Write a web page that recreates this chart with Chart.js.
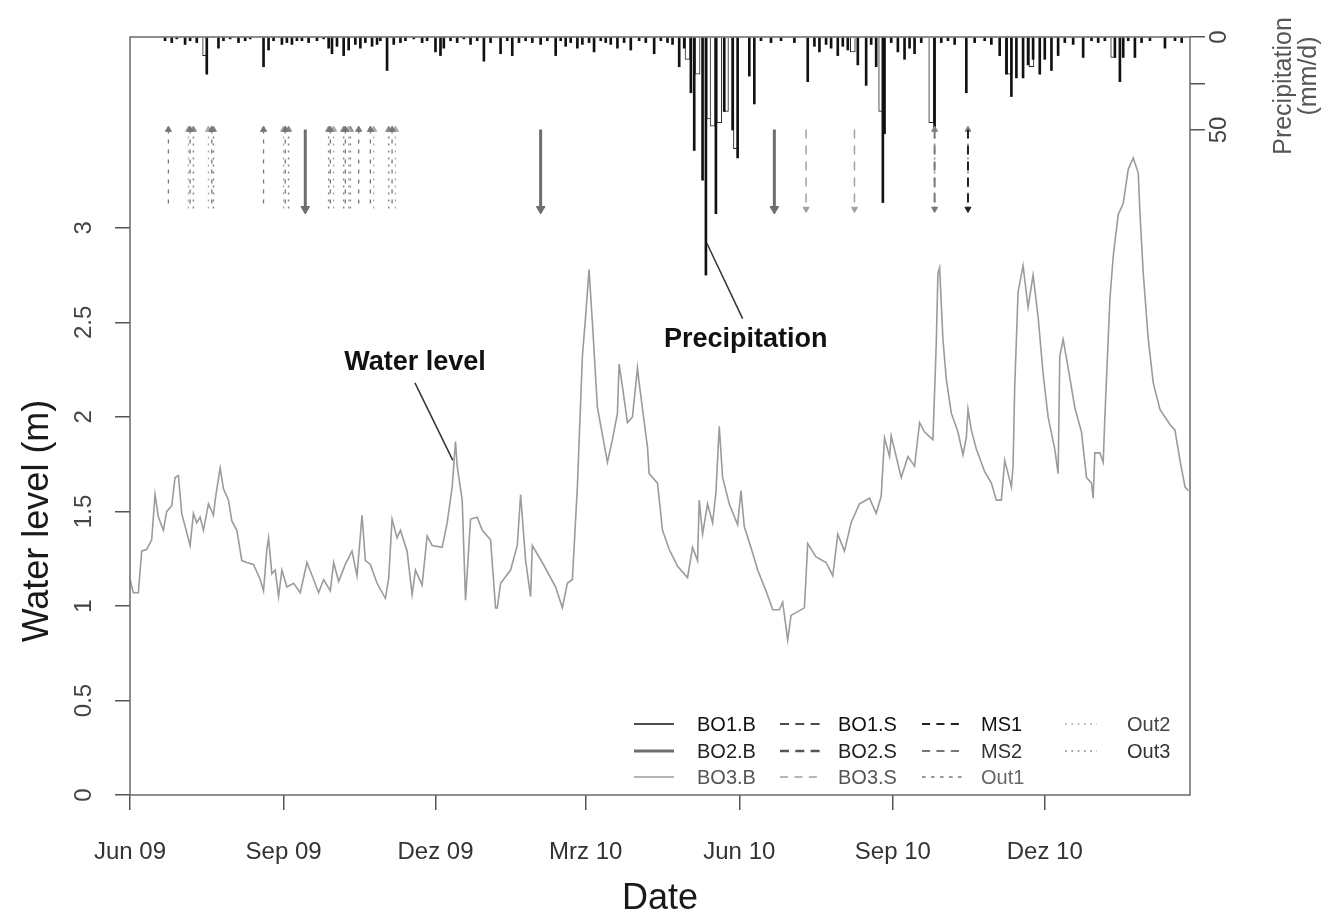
<!DOCTYPE html>
<html lang="de">
<head>
  <meta charset="UTF-8">
  <title>Water level and precipitation</title>
  <script src="https://cdn.jsdelivr.net/npm/chart.js"></script>
  <style>
    html, body { margin: 0; padding: 0; background: #ffffff; }
    #wrap { width: 1328px; height: 917px; }
  </style>
</head>
<body>
  <div id="wrap"><canvas id="chart"></canvas></div>

  <script>
    // x values are days since 1 Jun 2009
    const tickDays = [0, 92, 183, 273, 365, 457, 548];
    const tickLabels = ['Jun 09', 'Sep 09', 'Dez 09', 'Mrz 10', 'Jun 10', 'Sep 10', 'Dez 10'];
    const levelTicks = [0, 0.5, 1, 1.5, 2, 2.5, 3];
    const precipTicks = [0, 25, 50];
    const precipTickLabels = ['0', '', '50'];

    // water level (m)
    const levelDays = [0,2,5,6,7,10,13,15,17,20,22,25,27,29,31,36,38,40,42,44,47,50,51,54,56,59,61,64,67,70,
      74,78,80,82,83,85,87,89,91,94,98,102,106,110,113,116,120,122,125,129,133,136,139,141,144,148,153,155,157,160,
      162,166,169,171,175,178,181,187,190,193,195,196,199,201,204,208,211,216,219,220,222,228,232,234,237,240,241,247,255,259,
      262,265,268,271,273,275,277,280,286,289,292,293,295,298,301,304,305,310,311,316,319,323,
      328,334,337,340,341,343,346,349,351,353,355,359,364,366,368,373,376,381,385,389,391,394,396,404,406,411,417,421,424,428,
      432,437,443,447,450,452,455,456,462,466,470,473,476,481,483,484,
      485,487,489,492,496,499,501,502,504,507,512,516,519,522,524,526,528,529,530,532,535,538,541,544,547,550,554,556,557,559,
      562,566,570,573,576,577,578,581,583,584,587,589,592,595,598,601,604,605,607,610,613,617,623,626,629,632,634];
    const levelValues = [1.14,1.07,1.07,1.18,1.29,1.30,1.35,1.59,1.47,1.40,1.50,1.53,1.68,1.69,1.49,1.32,1.49,1.44,1.47,1.40,
      1.54,1.48,1.56,1.73,1.62,1.56,1.45,1.40,1.24,1.23,1.22,1.14,1.08,1.30,1.36,1.17,1.19,1.05,1.19,1.10,
      1.12,1.07,1.23,1.14,1.07,1.14,1.08,1.23,1.13,1.22,1.29,1.16,1.48,1.24,1.22,1.12,1.04,1.15,1.46,1.36,
      1.40,1.29,1.06,1.19,1.11,1.37,1.32,1.31,1.44,1.63,1.87,1.74,1.56,1.03,1.46,1.47,1.40,1.35,0.99,0.99,
      1.12,1.19,1.32,1.59,1.24,1.05,1.32,1.23,1.10,0.99,1.12,1.14,1.63,2.32,2.54,2.78,2.50,2.05,1.76,1.88,
      2.02,2.28,2.16,1.97,2.00,2.26,2.18,1.84,1.70,1.65,1.40,1.30,
      1.21,1.15,1.31,1.24,1.56,1.38,1.54,1.44,1.60,1.95,1.68,1.54,1.43,1.61,1.42,1.28,1.19,1.08,0.98,0.98,
      1.02,0.82,0.95,0.99,1.33,1.26,1.23,1.16,1.38,1.29,1.44,1.54,1.57,1.49,1.58,1.89,1.79,1.90,1.68,1.79,
      1.74,1.97,1.92,1.88,2.39,2.76,
      2.79,2.41,2.20,2.02,1.92,1.80,1.89,2.04,1.93,1.83,1.71,1.65,1.56,1.56,1.77,1.70,1.63,1.74,2.16,2.66,
      2.80,2.58,2.75,2.53,2.23,2.00,1.83,1.70,2.32,2.41,2.26,2.05,1.92,1.68,1.65,1.57,1.81,1.81,1.76,2.00,
      2.62,2.85,3.07,3.13,3.31,3.37,3.29,3.08,2.76,2.41,2.18,2.04,1.96,1.93,1.77,1.63,1.61];

    // precipitation (mm/d)
    const precipDays = [21,25,28,33,36,40,46,53,56,60,65,69,72,80,83,86,91,94,97,100,103,107,112,116,119,121,124,128,131,135,
      138,141,145,148,150,154,158,162,165,170,175,178,183,186,188,192,196,200,204,208,212,216,222,226,229,233,237,241,246,250,
      255,258,261,264,268,271,275,278,282,285,288,292,296,300,305,309,314,318,322,325,329,332,336,338,343,345,351,356,361,364,
      371,374,378,384,390,398,406,410,413,417,420,424,427,430,436,441,444,447,451,452,456,460,464,467,470,474,482,486,490,494,
      501,506,512,516,521,525,528,531,535,538,541,545,548,552,556,560,565,571,576,580,584,590,593,595,598,602,606,611,620,626,630];
    const precipValues = [2,3,1,4,2,3,20,6,2,1,3,2,1,16,7,2,4,3,4,2,2,3,2,1,6,9,5,10,7,4,
      6,3,5,4,2,18,4,3,2,1,3,2,8,10,6,2,3,1,4,2,13,3,9,2,10,3,2,3,4,2,
      10,2,5,3,6,4,3,8,2,3,4,6,3,7,2,3,9,2,3,4,16,6,30,61,77,128,95,40,50,65,
      21,36,2,3,2,3,24,5,8,4,6,10,5,7,15,26,4,16,89,52,3,8,12,6,9,3,50,3,2,4,
      30,3,2,4,10,20,32,22,22,15,12,20,12,18,10,3,4,11,2,3,2,11,24,11,2,11,3,2,6,2,3];
    const precip2Days = [45,334,340,347,349,353,357,363,433,450,480,527,540,589];
    const precip2Values = [10,12,20,44,48,46,40,60,8,40,46,20,16,11];

    // sampling dates per site
    const sampleBO1B = [];
    const sampleBO2B = [105, 246, 386];
    const sampleBO3B = [];
    const sampleBO1S = [];
    const sampleBO2S = [];
    const sampleBO3S = [405, 434];
    const sampleMS1 = [502];
    const sampleMS2 = [482];
    const sampleOut1 = [23, 36, 49, 80, 93, 120, 129, 137, 144, 157];
    const sampleOut2 = [35, 47, 92, 122, 131, 146, 159];
    const sampleOut3 = [38, 50, 95, 119, 128, 132, 155, 482, 502];

    const sites = [
      { label: 'BO1.B', dates: sampleBO1B, color: '#111111', width: 1.5, dash: [], head: 'down', text: '#111' },
      { label: 'BO2.B', dates: sampleBO2B, color: '#6e6e6e', width: 3, dash: [], head: 'down', text: '#222' },
      { label: 'BO3.B', dates: sampleBO3B, color: '#9a9a9a', width: 1.5, dash: [], head: 'down', text: '#555' },
      { label: 'BO1.S', dates: sampleBO1S, color: '#111111', width: 1.5, dash: [10, 7], head: 'down', text: '#111' },
      { label: 'BO2.S', dates: sampleBO2S, color: '#555555', width: 2.5, dash: [10, 7], head: 'down', text: '#222' },
      { label: 'BO3.S', dates: sampleBO3S, color: '#a0a0a0', width: 1.5, dash: [9, 7], head: 'down', text: '#555' },
      { label: 'MS1', dates: sampleMS1, color: '#222222', width: 2, dash: [9, 7], head: 'down', text: '#111' },
      { label: 'MS2', dates: sampleMS2, color: '#777777', width: 2, dash: [9, 7], head: 'down', text: '#333' },
      { label: 'Out1', dates: sampleOut1, color: '#777777', width: 1.3, dash: [4, 6], head: 'up', text: '#666' },
      { label: 'Out2', dates: sampleOut2, color: '#aaaaaa', width: 1.3, dash: [2, 5], head: 'up', text: '#444' },
      { label: 'Out3', dates: sampleOut3, color: '#888888', width: 1.5, dash: [2, 5], head: 'up', text: '#333' }
    ];

    const arrowTop = 3.52;
    const arrowBottom = 3.10;

    const notes = [
      { text: 'Water level', day: 170.7, level: 2.29, from: [170.7, 2.18], to: [193.4, 1.77] },
      { text: 'Precipitation', day: 368.9, level: 2.41, from: [367, 2.52], to: [345.5, 2.92] }
    ];

    const FONT = '"Liberation Sans", Arial, Helvetica, sans-serif';

    function arrowPoints(dates) {
      const pts = [];
      dates.forEach(d => {
        pts.push({ x: d, y: arrowTop }, { x: d, y: arrowBottom }, { x: d, y: null });
      });
      return pts;
    }

    const datasets = [];

    datasets.push({
      type: 'line',
      label: 'Water level',
      data: levelDays.map((d, i) => ({ x: d, y: levelValues[i] })),
      yAxisID: 'y',
      borderColor: '#9b9b9b',
      borderWidth: 1.6,
      pointRadius: 0,
      tension: 0,
      order: 5
    });

    datasets.push({
      type: 'bar',
      label: 'Precipitation',
      data: precip2Days.map((d, i) => ({ x: d, y: precip2Values[i] })),
      yAxisID: 'y2',
      backgroundColor: '#ffffff',
      borderColor: '#222222',
      borderWidth: 1,
      barThickness: 5,
      grouped: false,
      order: 4
    });

    datasets.push({
      type: 'bar',
      label: 'Precipitation',
      data: precipDays.map((d, i) => ({ x: d, y: precipValues[i] })),
      yAxisID: 'y2',
      backgroundColor: '#111111',
      borderWidth: 0,
      barThickness: 2,
      grouped: false,
      order: 3
    });

    sites.forEach(s => {
      const headIdx = s.head === 'down' ? 1 : 0;
      datasets.push({
        type: 'line',
        label: s.label,
        data: arrowPoints(s.dates),
        yAxisID: 'y',
        borderColor: s.color,
        backgroundColor: s.color,
        borderWidth: s.width,
        borderDash: s.dash,
        spanGaps: false,
        pointStyle: 'triangle',
        rotation: s.head === 'down' ? 180 : 0,
        pointRadius: ctx => (ctx.dataIndex % 3 === headIdx ? (s.width > 2 ? 5 : 3.5) : 0),
        pointBorderWidth: 1,
        order: 2
      });
    });

    notes.forEach(n => {
      datasets.push({
        type: 'line',
        label: n.text,
        data: [{ x: n.from[0], y: n.from[1] }, { x: n.to[0], y: n.to[1] }],
        yAxisID: 'y',
        borderColor: '#333333',
        borderWidth: 1.5,
        pointRadius: 0,
        order: 1
      });
    });

    const tickGrid = { drawOnChartArea: false, drawTicks: true, tickLength: 15, color: '#555555', lineWidth: 1.5, offset: false };

    const textLayer = {
      id: 'textLayer',
      afterDraw(chart) {
        const { ctx, chartArea: a, scales } = chart;
        ctx.save();
        ctx.strokeStyle = '#6a6a6a';
        ctx.lineWidth = 1.5;
        ctx.strokeRect(a.left, a.top, a.right - a.left, a.bottom - a.top);

        const rotText = (txt, x, y, font, color) => {
          ctx.save();
          ctx.translate(x, y);
          ctx.rotate(-Math.PI / 2);
          ctx.font = font;
          ctx.fillStyle = color;
          ctx.textAlign = 'center';
          ctx.textBaseline = 'middle';
          ctx.fillText(txt, 0, 0);
          ctx.restore();
        };

        levelTicks.forEach(v => {
          rotText(String(v), 84, scales.y.getPixelForValue(v), '24px ' + FONT, '#444');
        });
        precipTicks.forEach((v, i) => {
          if (precipTickLabels[i]) rotText(precipTickLabels[i], 1219, scales.y2.getPixelForValue(v), '24px ' + FONT, '#444');
        });

        rotText('Water level (m)', 38, 521, '36px ' + FONT, '#1a1a1a');
        rotText('Precipitation', 1284, 86, '25px ' + FONT, '#555');
        rotText('(mm/d)', 1309, 76, '25px ' + FONT, '#555');

        ctx.font = '36px ' + FONT;
        ctx.fillStyle = '#1a1a1a';
        ctx.textAlign = 'center';
        ctx.textBaseline = 'middle';
        ctx.fillText('Date', 660, 899);

        ctx.font = 'bold 27px ' + FONT;
        ctx.fillStyle = '#111';
        notes.forEach(n => {
          ctx.fillText(n.text, scales.x.getPixelForValue(n.day), scales.y.getPixelForValue(n.level));
        });

        // legend, 3 rows per column
        const colX = [634, 780, 922, 1065];
        const colLen = [40, 42, 42, 32];
        const colText = [697, 838, 981, 1127];
        const rowY = [724, 751, 777];
        ctx.font = '20px ' + FONT;
        ctx.textAlign = 'left';
        sites.forEach((s, i) => {
          const c = Math.floor(i / 3), r = i % 3;
          const y = rowY[r];
          ctx.beginPath();
          ctx.strokeStyle = s.color;
          ctx.lineWidth = s.width;
          ctx.setLineDash(s.dash.map(v => v * 0.9));
          ctx.moveTo(colX[c], y);
          ctx.lineTo(colX[c] + colLen[c], y);
          ctx.stroke();
          ctx.setLineDash([]);
          ctx.fillStyle = s.text;
          ctx.fillText(s.label, colText[c], y + 1);
        });
        ctx.restore();
      }
    };

    new Chart(document.getElementById('chart'), {
      type: 'line',
      data: { datasets: datasets },
      options: {
        responsive: true,
        maintainAspectRatio: false,
        animation: false,
        layout: { padding: { top: 37, left: 0, right: 0, bottom: 0 } },
        plugins: {
          legend: { display: false },
          tooltip: { enabled: false }
        },
        scales: {
          x: {
            type: 'linear',
            min: 0,
            max: 635,
            offset: false,
            afterBuildTicks: s => { s.ticks = tickDays.map(v => ({ value: v })); },
            afterFit: s => { s.height = 122; },
            ticks: {
              autoSkip: false,
              maxRotation: 0,
              padding: 28,
              color: '#333',
              font: { family: FONT, size: 24 },
              callback: v => tickLabels[tickDays.indexOf(v)] || ''
            },
            grid: tickGrid,
            border: { display: false }
          },
          y: {
            type: 'linear',
            position: 'left',
            min: 0,
            max: 4.01,
            afterBuildTicks: s => { s.ticks = levelTicks.map(v => ({ value: v })); },
            afterFit: s => { s.width = 130; },
            ticks: { display: false },
            grid: tickGrid,
            border: { display: false }
          },
          y2: {
            type: 'linear',
            position: 'right',
            reverse: true,
            min: 0,
            max: 407.5,
            afterBuildTicks: s => { s.ticks = precipTicks.map(v => ({ value: v })); },
            afterFit: s => { s.width = 138; },
            ticks: { display: false },
            grid: tickGrid,
            border: { display: false }
          }
        }
      },
      plugins: [textLayer]
    });
  </script>
</body>
</html>
